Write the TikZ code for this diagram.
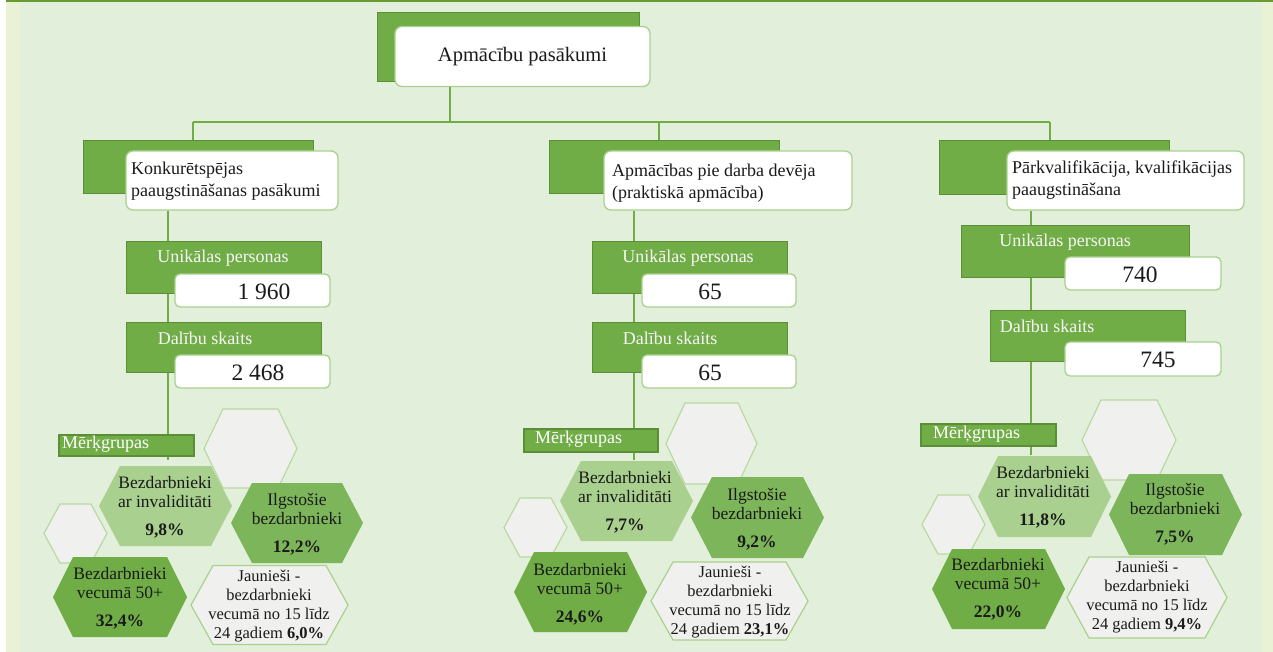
\documentclass[tikz,border=0pt]{standalone}
\usepackage{fontspec}
\setmainfont{Liberation Serif}
\definecolor{bg}{HTML}{E2EFDA}
\definecolor{bglt}{HTML}{E9F2D5}
\definecolor{topl}{HTML}{6A9A32}
\definecolor{gg}{HTML}{70AD47}
\definecolor{ggd}{HTML}{5B8E37}
\definecolor{lgb}{HTML}{A9D18E}
\definecolor{hexl}{HTML}{A9D08E}
\definecolor{hexm}{HTML}{7DB65A}
\definecolor{hexd}{HTML}{70AD47}
\definecolor{hexg}{HTML}{F0F1EE}
\definecolor{hexgb}{HTML}{B8D9A2}
\definecolor{txt}{HTML}{1A1A1A}
\newcommand\hexa[6]{\path[#6] ({#1-#3/2},#2) -- ({#1-#3/2+#5},{#2-#4/2}) -- ({#1+#3/2-#5},{#2-#4/2}) -- ({#1+#3/2},#2) -- ({#1+#3/2-#5},{#2+#4/2}) -- ({#1-#3/2+#5},{#2+#4/2}) -- cycle;}
\tikzset{
  gbox/.style={fill=gg,draw=ggd,line width=0.9},
  wbox/.style={fill=white,draw=lgb,rounded corners=7,line width=1.3},
  conn/.style={draw=gg,line width=1.3},
  mbox/.style={fill=gg,draw=ggd,line width=1.2},
  hgray/.style={fill=hexg,draw=hexgb,line width=1.2},
  hlight/.style={fill=hexl,draw=none},
  hmid/.style={fill=hexm,draw=none},
  hdark/.style={fill=hexd,draw=none},
  hwhite/.style={fill=hexg,draw=lgb,line width=1.2},
  title/.style={inner sep=0,text=txt,font=\fontsize{20.5}{24}\selectfont},
  subt/.style={inner sep=0,anchor=west,align=left,text=txt,font=\fontsize{18}{22}\selectfont},
  glab/.style={inner sep=0,text=white!94!gray,font=\fontsize{18}{22}\selectfont},
  num/.style={inner sep=0,text=txt,font=\fontsize{23.5}{26}\selectfont},
  mlab/.style={inner sep=0,anchor=west,text=white,font=\fontsize{18}{22}\selectfont},
  htxt/.style={inner sep=0,align=center,text=txt,font=\fontsize{17.5}{19.5}\selectfont},
  jtxt/.style={inner sep=0,align=center,text=txt,font=\fontsize{16.5}{19}\selectfont},
}
\begin{document}
\begin{tikzpicture}[x=1pt,y=-1pt]
\useasboundingbox (0,0) rectangle (1273,652);
% background
\fill[white] (0,0) rectangle (1273,652);
\fill[bglt] (6,0) rectangle (20,652);
\fill[bg] (20,0) rectangle (1262,652);
\fill[bglt] (1262,0) rectangle (1273,652);
\fill[topl] (6,0) rectangle (1273,1.6);

% connector coordinates
\coordinate (j0) at (450,122);
\coordinate (j1) at (193,122);
\coordinate (j2) at (659,122);
\coordinate (j3) at (1050,122);
\coordinate (e1) at (168,460);
\coordinate (e2) at (634,460);
\coordinate (e3) at (1031,455);

% title
\path[gbox] (377,12) rectangle (639,81);
\node[wbox,minimum width=255,minimum height=60,inner sep=0] (t) at (522.5,56.5) {};
\node[title] (tt) at (t.center) {Apmācību pasākumi};

% column boxes (green backs) first
\node[gbox,minimum width=230,minimum height=53,inner sep=0] (g1) at (198,166.5) {};
\node[gbox,minimum width=230,minimum height=53,inner sep=0] (g2) at (664,166.5) {};
\node[gbox,minimum width=230,minimum height=54,inner sep=0] (g3) at (1054,167) {};

% connectors (behind)
\draw[conn] (t.south -| j0) -- (j0);
\draw[conn] (j1) -- (j3);
\draw[conn] (j1) -- (g1.north -| j1);
\draw[conn] (j2) -- (g2.north -| j2);
\draw[conn] (j3) -- (g3.north -| j3);

% sub-headers
\node[wbox,minimum width=212,minimum height=59,inner sep=0] (w1) at (232,180.5) {};
\node[wbox,minimum width=248,minimum height=59,inner sep=0] (w2) at (728,180.5) {};
\node[wbox,minimum width=237,minimum height=59,inner sep=0] (w3) at (1125.5,180.5) {};
\draw[conn] (w1.south -| e1) -- (e1);
\draw[conn] (w2.south -| e2) -- (e2);
\draw[conn] (w3.south -| e3) -- (e3);
\node[subt] (s1) at (131,181) {Konkurētspējas\\paaugstināšanas pasākumi};
\node[subt] (s2) at (612,183) {Apmācības pie darba devēja\\(praktiskā apmācība)};
\node[subt] (s3) at (1012,180.5) {Pārkvalifikācija, kvalifikācijas\\paaugstināšana};

% column 1 stats
\path[gbox] (126,241) rectangle (321,293);
\node[glab] (u1) at (223,258) {Unikālas personas};
\node[wbox,rounded corners=5,minimum width=155,minimum height=33,inner sep=0] (uw1) at (252.5,290.5) {};
\node[num] (un1) at (264,292) {1 960};
\path[gbox] (126,322) rectangle (321,372);
\node[glab] (d1) at (205,338) {Dalību skaits};
\node[wbox,rounded corners=5,minimum width=155,minimum height=33,inner sep=0] (dw1) at (252.5,371.5) {};
\node[num] (dn1) at (258,373) {2 468};

% column 2 stats
\path[gbox] (592,241) rectangle (787,293);
\node[glab] (u2) at (688,258) {Unikālas personas};
\node[wbox,rounded corners=5,minimum width=154,minimum height=33,inner sep=0] (uw2) at (719,290.5) {};
\node[num] (un2) at (710,292) {65};
\path[gbox] (592,322) rectangle (787,372);
\node[glab] (d2) at (670,338) {Dalību skaits};
\node[wbox,rounded corners=5,minimum width=154,minimum height=33,inner sep=0] (dw2) at (719,371.5) {};
\node[num] (dn2) at (710,373) {65};

% column 3 stats
\path[gbox] (961,225) rectangle (1189,277);
\node[glab] (u3) at (1065,242) {Unikālas personas};
\node[wbox,rounded corners=5,minimum width=156,minimum height=33,inner sep=0] (uw3) at (1143,273.5) {};
\node[num] (un3) at (1140,275) {740};
\path[gbox] (990,310) rectangle (1185,361);
\node[glab] (d3) at (1047,326) {Dalību skaits};
\node[wbox,rounded corners=5,minimum width=156,minimum height=34,inner sep=0] (dw3) at (1143,359) {};
\node[num] (dn3) at (1158,360) {745};

% Merkgrupas
\path[mbox] (59,435) rectangle (194,456);
\node[mlab] (m1) at (62,444) {Mērķgrupas};
\path[mbox] (524,429) rectangle (658,452);
\node[mlab] (m2) at (535,439) {Mērķgrupas};
\path[mbox] (921,424) rectangle (1056,446);
\node[mlab] (m3) at (933,434) {Mērķgrupas};

% hexagons column 1
\hexa{250.5}{448.5}{93}{79}{19}{hgray}
\hexa{75.5}{533.5}{63}{59}{16}{hgray}
\hexa{165.5}{506}{133}{80}{21}{hlight}
\hexa{297}{523}{132}{80}{21}{hmid}
\hexa{120}{597}{134}{80}{20}{hdark}
\hexa{269.5}{605}{157}{79}{22}{hwhite}
\node[htxt] (a1) at (165,507) {Bezdarbnieki\\ar invaliditāti\\[8pt]\textbf{9,8\%}};
\node[htxt] (b1) at (297,524) {Ilgstošie\\bezdarbnieki\\[8pt]\textbf{12,2\%}};
\node[htxt] (c1) at (120,598) {Bezdarbnieki\\vecumā 50+\\[8pt]\textbf{32,4\%}};
\node[jtxt] (d1j) at (269,606) {Jaunieši -\\bezdarbnieki\\vecumā no 15 līdz\\24 gadiem \textbf{6,0\%}};

% hexagons column 2
\hexa{711.5}{443.5}{91}{81}{19}{hgray}
\hexa{535.5}{527.5}{63}{59}{16}{hgray}
\hexa{626.5}{501}{133}{80}{21}{hlight}
\hexa{757.5}{517.5}{133}{81}{21}{hmid}
\hexa{580.5}{592}{133}{80}{20}{hdark}
\hexa{729.5}{601}{157}{78}{22}{hwhite}
\node[htxt] (a2) at (625,502) {Bezdarbnieki\\ar invaliditāti\\[8pt]\textbf{7,7\%}};
\node[htxt] (b2) at (757,519) {Ilgstošie\\bezdarbnieki\\[8pt]\textbf{9,2\%}};
\node[htxt] (c2) at (580,594) {Bezdarbnieki\\vecumā 50+\\[8pt]\textbf{24,6\%}};
\node[jtxt] (d2j) at (730,602) {Jaunieši -\\bezdarbnieki\\vecumā no 15 līdz\\24 gadiem \textbf{23,1\%}};

% hexagons column 3
\hexa{1129}{440}{94}{80}{19}{hgray}
\hexa{953.5}{524.5}{63}{59}{16}{hgray}
\hexa{1044.5}{496.5}{133}{81}{20}{hlight}
\hexa{1175.5}{514.5}{133}{81}{20}{hmid}
\hexa{998.5}{589}{133}{80}{20}{hdark}
\hexa{1147}{597.5}{160}{81}{22}{hwhite}
\node[htxt] (a3) at (1043,497) {Bezdarbnieki\\ar invaliditāti\\[8pt]\textbf{11,8\%}};
\node[htxt] (b3) at (1175,514) {Ilgstošie\\bezdarbnieki\\[8pt]\textbf{7,5\%}};
\node[htxt] (c3) at (998,589) {Bezdarbnieki\\vecumā 50+\\[8pt]\textbf{22,0\%}};
\node[jtxt] (d3j) at (1147,597) {Jaunieši -\\bezdarbnieki\\vecumā no 15 līdz\\24 gadiem \textbf{9,4\%}};
\end{tikzpicture}
\end{document}
